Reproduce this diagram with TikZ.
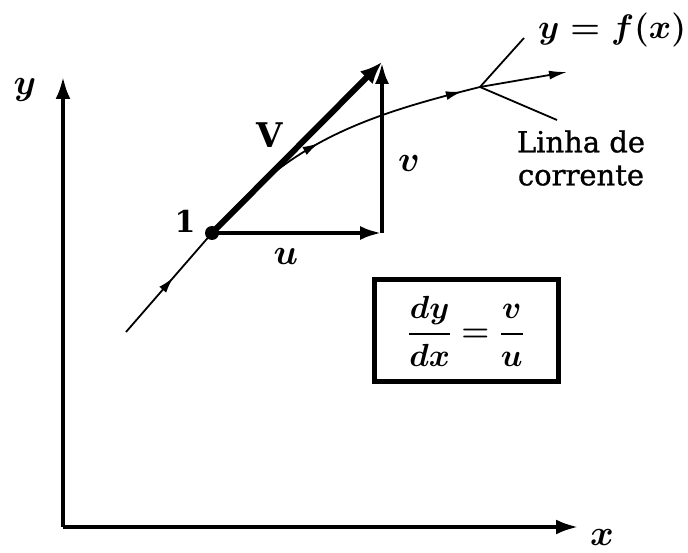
\RequirePackage{fix-cm}
\documentclass[tikz,border=0pt]{standalone}
\usepackage{amsmath,amssymb}
\usepackage{fontspec}
\setmainfont{DejaVu Serif}
\newfontfamily\streamfont[FakeBold=1]{DejaVu Serif}
\usepackage{tikz}
\usetikzlibrary{arrows.meta, positioning, calc, decorations.markings}

\begin{document}
\begin{tikzpicture}[
    x=1pt, y=1pt,
    lbl/.style={inner sep=0pt, font=\fontsize{36}{40}\selectfont\boldmath},
    axis/.style={line width=3.6pt, -{Latex[length=22pt,width=15pt]}},
    comp/.style={line width=4.5pt, -{Latex[length=22pt,width=14pt]}},
    stream/.style={line width=1.8pt},
    midarrow/.style={postaction={decorate, decoration={markings,
        mark=at position #1 with {\arrow{Latex[length=16pt,width=9pt]}}}}}
]
\useasboundingbox (0,0) rectangle (688,552);

% Axes
\coordinate (O) at (63,25);
\coordinate (ytip) at (63,475);
\coordinate (xtip) at (578,25);
\draw[axis] (O) -- (ytip);
\draw[axis] (O) -- (xtip);
\node[lbl] (ylab) at (25,462) {$y$};
\node[lbl] (xlab) at (602,15) {$x$};

% Streamline
\coordinate (s0) at (126,220);
\coordinate (p1) at (212,319);
\coordinate (jn) at (480,465);
\coordinate (s1) at (567,480);
\draw[stream, midarrow=0.55] (s0) -- (p1);
\draw[stream, midarrow=0.45, midarrow=0.94] (p1) to[out=50, in=194] (jn);
\draw[stream, -{Latex[length=18pt,width=9pt]}] (jn) -- (s1);

% Velocity components
\coordinate (cr) at (382,319);
\coordinate (vtop) at (382,490);
\draw[comp] (p1) -- (cr);
\draw[comp] (cr) -- (vtop);
\draw[line width=6pt, -{Latex[length=22pt,width=18pt]}] (p1) -- (vtop);
\fill (p1) circle (7pt);

\node[lbl, font=\fontsize{30}{34}\selectfont\bfseries] (one) at (185,331) {1};
\node[lbl, font=\fontsize{34}{38}\selectfont\bfseries] (Vlab) at (270,417) {V};
\node[lbl] (vlab) at (409,388) {$v$};
\node[lbl] (ulab) at (286,295) {$u$};

% Labels of the curve
\node[lbl, anchor=west, font=\fontsize{34}{38}\selectfont\boldmath] (fx) at (538,522) {$y = f(x)$};
\node[lbl, align=center, font=\fontsize{29}{33}\selectfont\streamfont] (linha) at (581,394) {Linha de\\corrente};
\coordinate (fxend) at (524,514);
\coordinate (lnend) at (557,432);
\draw[line width=1.8pt] (jn) -- (fxend);
\draw[line width=1.8pt] (jn) -- (lnend);

% Relation box
\node[draw, line width=5pt, minimum width=184pt, minimum height=102pt, inner sep=0pt,
      font=\fontsize{32}{36}\selectfont\boldmath] (rel) at (466,221)
      {$\dfrac{dy}{dx} = \dfrac{v}{u}$};

\end{tikzpicture}
\end{document}
